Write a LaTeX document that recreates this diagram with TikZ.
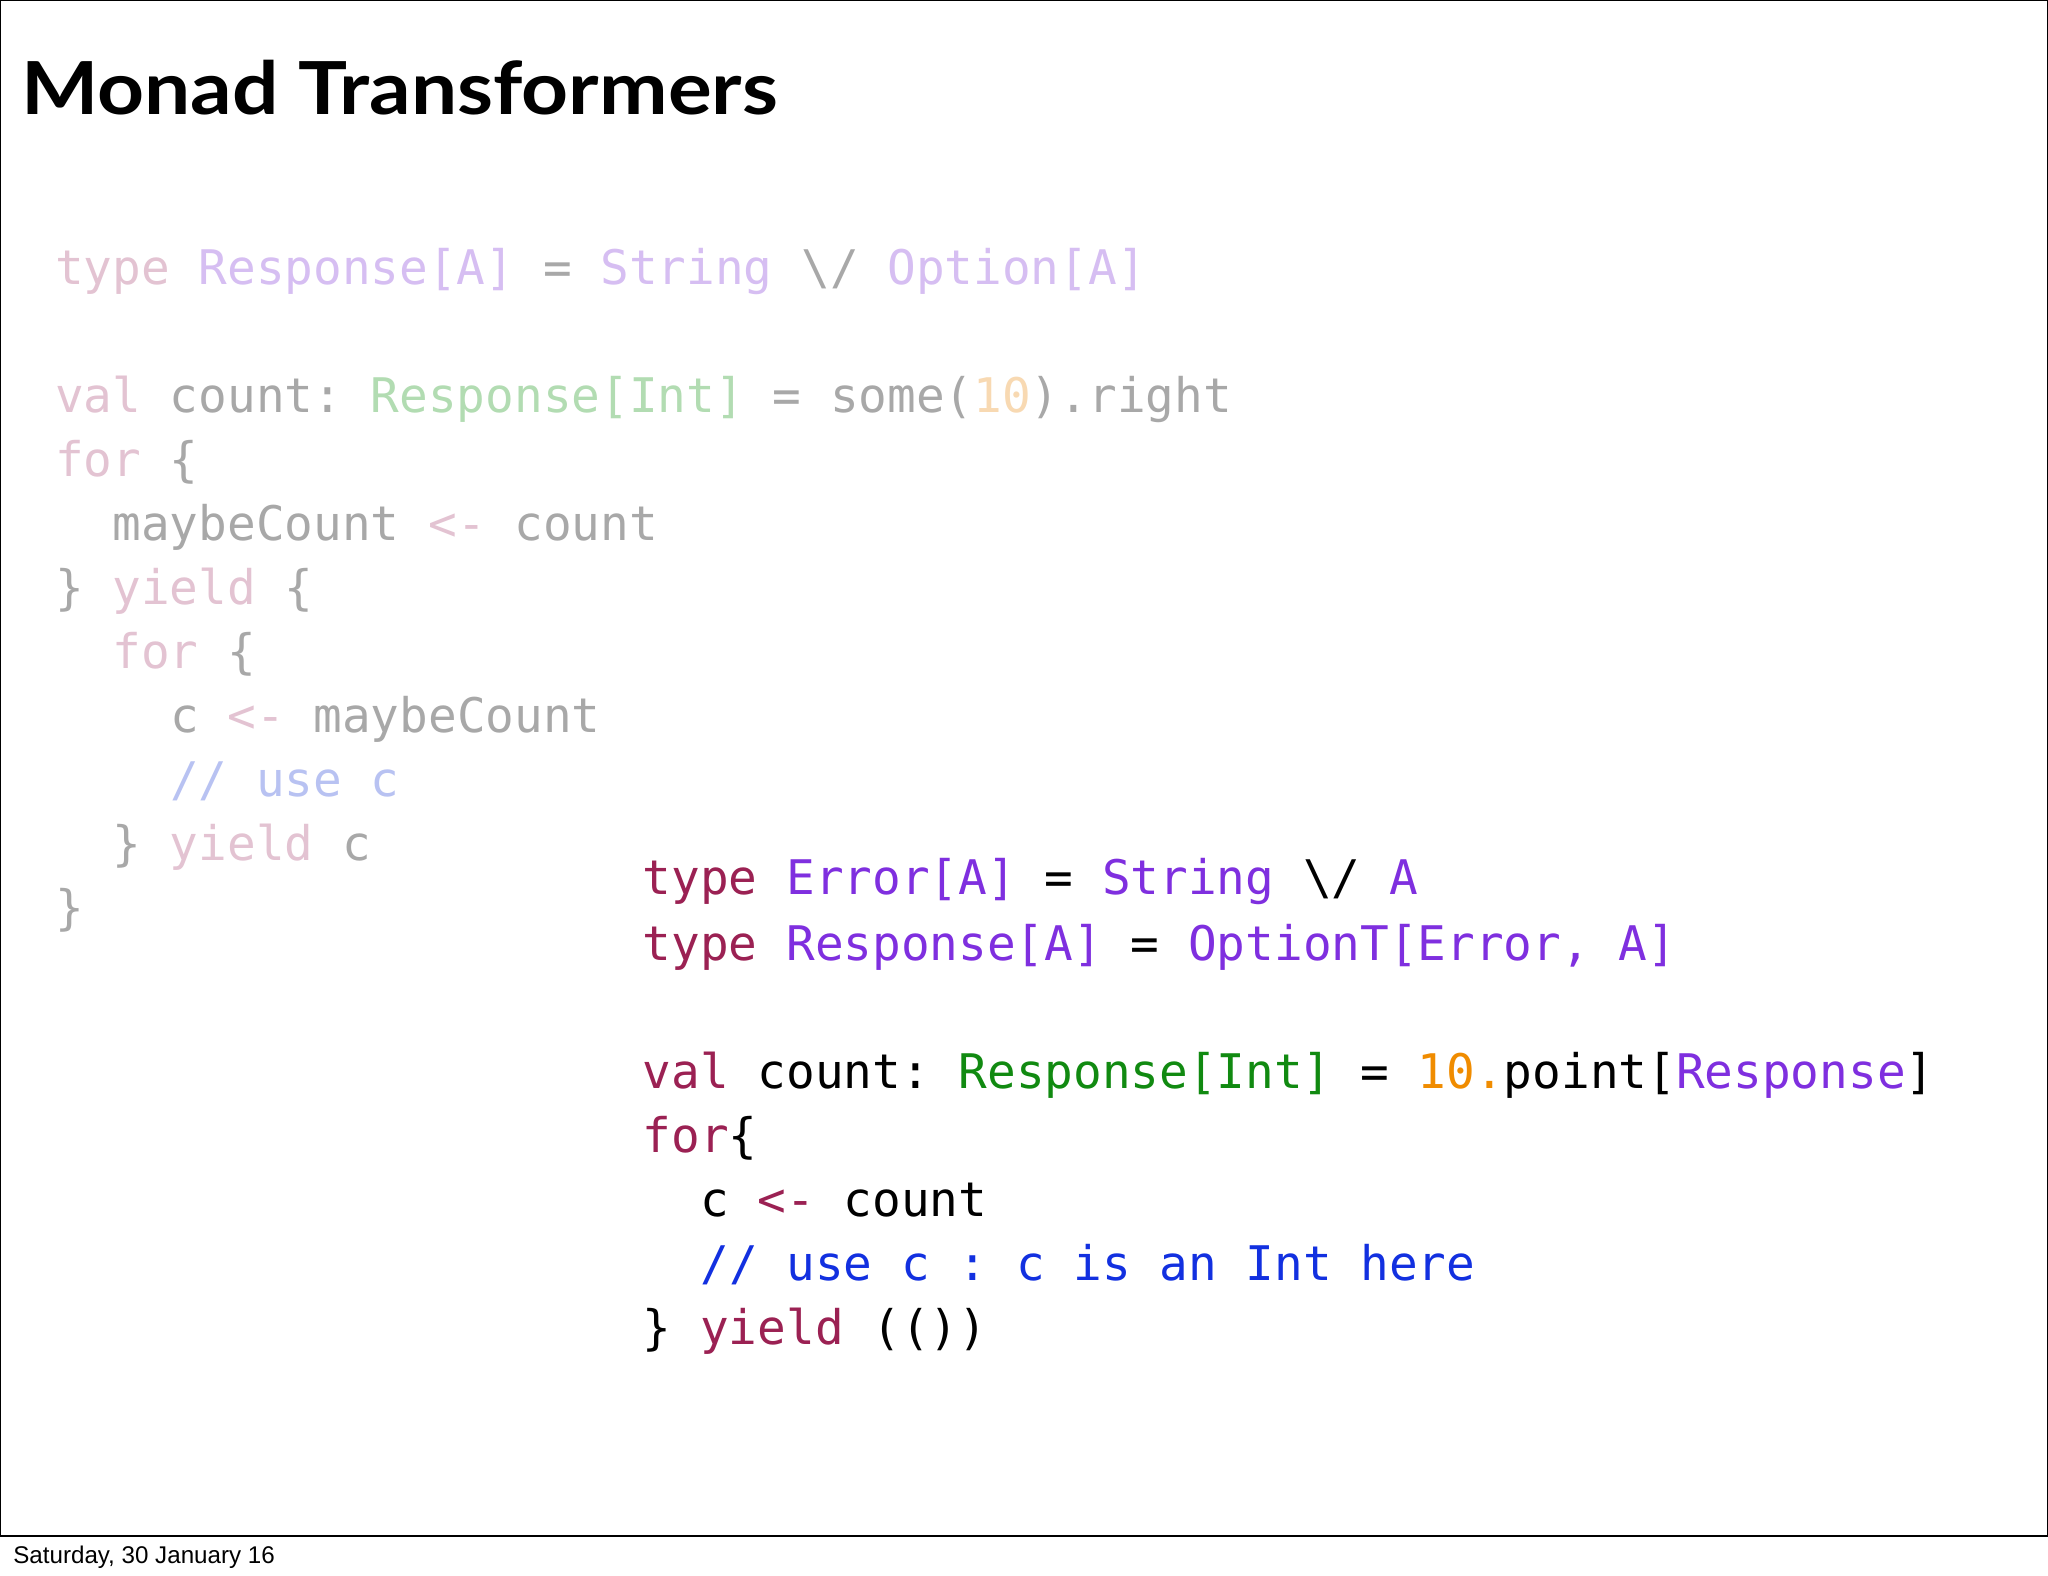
\documentclass[tikz,border=0pt]{standalone}
\usepackage{fontspec}
\setmainfont{Liberation Sans}
\setmonofont{DejaVu Sans Mono}
\newfontfamily\titlefont{Lato}
\definecolor{fk}{HTML}{E3C3D2}\definecolor{ft}{HTML}{D6BEF2}\definecolor{fg}{HTML}{B2DCB2}
\definecolor{fx}{HTML}{A8A8A8}\definecolor{fo}{HTML}{F8D9B2}\definecolor{fc}{HTML}{B8C2F2}
\definecolor{kk}{HTML}{9B2153}\definecolor{kt}{HTML}{7F2FDF}\definecolor{kg}{HTML}{118A11}
\definecolor{ko}{HTML}{F08C00}\definecolor{kc}{HTML}{1230E0}
\newcommand{\C}[2]{\textcolor{#1}{#2}}
\begin{document}
\begin{tikzpicture}[x=1pt,y=-1pt,
  code/.style={anchor=base west,inner sep=0pt,font=\ttfamily\fontsize{36.5}{36.5}\selectfont}]
\useasboundingbox (0,0) rectangle (1568,1206);
\fill[white] (0,0) rectangle (1568,1206);
\draw[line width=1pt] (0.5,0.5) -- (1567.5,0.5) -- (1567.5,1176) -- (0.5,1176) -- cycle;
\node[anchor=base west,inner sep=0pt,font=\titlefont\bfseries\fontsize{56}{56}\selectfont] (title) at (16,88) {\scalebox{1.12}[1]{Monad Transformers}};
\node[anchor=base west,inner sep=0pt,font=\fontsize{18.5}{19}\selectfont] (foot) at (10,1197) {Saturday, 30 January 16};
% faded block
\node[code] (a1) at (42,218) {\C{fk}{type} \C{ft}{Response[A]} \C{fx}{=} \C{ft}{String} \C{fx}{\textbackslash/} \C{ft}{Option[A]}};
\node[code] (a2) at (42,316) {\C{fk}{val} \C{fx}{count:} \C{fg}{Response[Int]} \C{fx}{= some(}\C{fo}{10}\C{fx}{).right}};
\node[code] (a3) at (42,365) {\C{fk}{for} \C{fx}{\{}};
\node[code] (a4) at (86,414) {\C{fx}{maybeCount} \C{fk}{<-} \C{fx}{count}};
\node[code] (a5) at (42,463) {\C{fx}{\}} \C{fk}{yield} \C{fx}{\{}};
\node[code] (a6) at (86,512) {\C{fk}{for} \C{fx}{\{}};
\node[code] (a7) at (130,561) {\C{fx}{c} \C{fk}{<-} \C{fx}{maybeCount}};
\node[code] (a8) at (130,610) {\C{fc}{// use c}};
\node[code] (a9) at (86,659) {\C{fx}{\}} \C{fk}{yield} \C{fx}{c}};
\node[code] (a10) at (42,708) {\C{fx}{\}}};
% main block
\node[code] (b1) at (492,685) {\C{kk}{type} \C{kt}{Error[A]} = \C{kt}{String} \textbackslash/ \C{kt}{A}};
\node[code] (b2) at (492,735) {\C{kk}{type} \C{kt}{Response[A]} = \C{kt}{OptionT[Error, A]}};
\node[code] (b3) at (492,833) {\C{kk}{val} count: \C{kg}{Response[Int]} = \C{ko}{10.}point[\C{kt}{Response}]};
\node[code] (b4) at (492,882) {\C{kk}{for}\{};
\node[code] (b5) at (536,931) {c \C{kk}{<-} count};
\node[code] (b6) at (536,980) {\C{kc}{// use c : c is an Int here}};
\node[code] (b7) at (492,1029) {\} \C{kk}{yield} (())};
\end{tikzpicture}
\end{document}
